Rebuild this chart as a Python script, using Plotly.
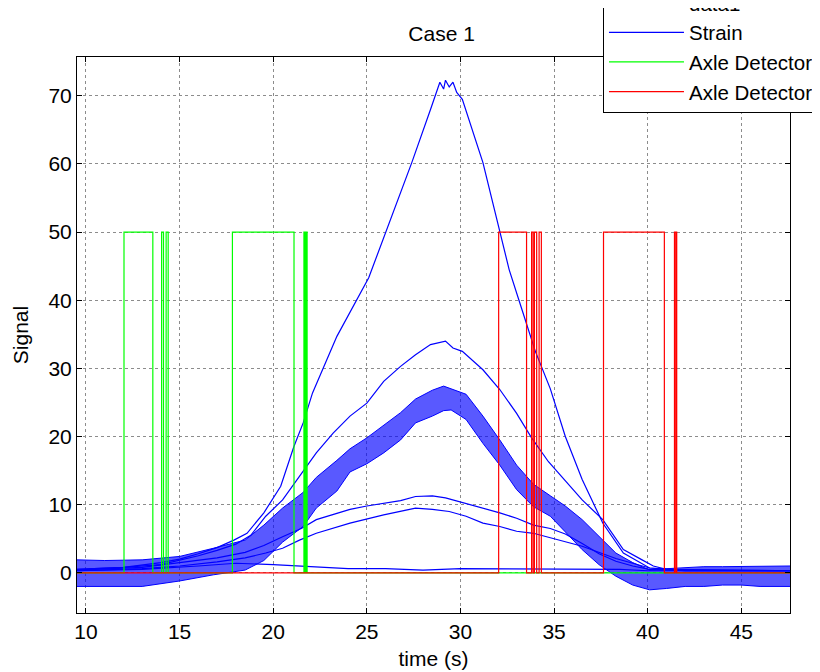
import plotly.graph_objects as go

# strain curves (time s, signal)
t_s1 = [9.5, 12, 14, 15, 16, 17, 17.9, 18.6, 19.5, 20.4, 21.1, 21.6, 22.1, 23.4, 25.1, 26.0, 27.4, 28.4, 28.7,
        28.9, 29.1, 29.2, 29.4, 29.6, 29.8, 30.1, 31.2, 32.1, 32.6, 33.3, 34.0, 34.8, 35.6, 36.5, 37.6, 38.7,
        40.1, 42, 47.6]
v_s1 = [0.5, 0.8, 1.5, 2.0, 2.8, 3.7, 4.8, 5.8, 8.8, 12.7, 18.5, 22.0, 26.4, 34.7, 43.3, 49.9, 60.2, 68.0, 70.5,
        72.0, 71.0, 72.3, 71.3, 72.0, 70.5, 69.5, 60.2, 50.0, 44.5, 38.5, 32.5, 27.0, 20.0, 13.7, 7.3, 2.9,
        0.7, 0.4, 0.3]

t_s2 = [9.5, 12, 14, 15, 16, 17, 18, 18.8, 19.6, 20.5, 21.4, 22.3, 23.2, 24.1, 25.0, 25.9, 26.8, 27.6, 28.4,
        29.2, 29.6, 30.1, 31.2, 32.1, 33.0, 33.8, 34.7, 35.6, 36.5, 37.6, 38.7, 39.7, 40.3, 41, 47.6]
v_s2 = [0.5, 0.8, 1.2, 1.8, 2.5, 3.3, 4.2, 5.5, 8.3, 10.7, 14.1, 17.6, 20.5, 23.0, 24.9, 28.1, 30.3, 32.0, 33.5,
        34.0, 33.0, 32.5, 29.8, 26.9, 23.4, 19.8, 16.3, 13.5, 10.7, 7.8, 3.4, 1.9, 1.0, 0.5, 0.3]

# noisy strain channel, upper / lower envelope
t_band = [9.5, 11, 13, 15, 16.8, 18.5, 19.5, 20.5, 21.6, 22.3, 23.4, 24.1, 25.0, 25.9, 26.8, 27.6, 28.5, 29.1,
          29.5, 30.3, 31.2, 32.1, 33.0, 33.9, 34.8, 35.6, 36.5, 37.4, 38.3, 39.2, 40.1, 41, 42, 43, 44, 45, 46,
          47.6]
v_band_hi = [1.9, 1.8, 1.9, 2.4, 3.6, 4.8, 7.0, 9.5, 11.8, 14.0, 16.5, 18.2, 19.8, 21.6, 23.5, 25.5, 26.8, 27.4,
             27.0, 26.2, 23.0, 19.5, 15.8, 13.0, 11.3, 9.8, 7.8, 5.3, 2.9, 1.5, 0.4, 0.6, 0.8, 0.9, 0.9, 0.9,
             1.0, 1.0]
v_band_lo = [-2.0, -2.0, -2.0, -1.2, -0.3, 0.4, 1.8, 4.5, 6.8, 9.5, 12.0, 14.8, 16.0, 17.6, 19.5, 22.0, 23.0,
             23.8, 23.9, 22.5, 19.0, 15.8, 12.2, 9.7, 8.3, 6.0, 3.4, 1.2, -0.5, -1.8, -2.5, -2.3, -2.0, -2.0,
             -1.8, -1.8, -2.0, -2.0]

t_s4 = [9.5, 13, 15, 17, 18.5, 19.5, 20.5, 21.5, 22.3, 23.2, 24.1, 25.0, 25.9, 26.8, 27.6, 28.5, 29.2, 30.3,
        31.2, 32.1, 33.0, 33.9, 34.8, 35.6, 36.5, 37.4, 38.3, 39.2, 40.1, 42, 47.6]
v_s4 = [0.4, 0.8, 1.5, 2.2, 3.0, 4.0, 5.3, 6.5, 7.8, 8.6, 9.3, 9.8, 10.2, 10.6, 11.2, 11.3, 11.0, 10.2,
        9.5, 8.8, 8.0, 7.0, 6.5, 5.7, 4.3, 2.8, 1.7, 1.0, 0.5, 0.3, 0.3]

t_s5 = [9.5, 13, 15, 17, 18.5, 19.6, 20.5, 21.4, 22.3, 24.1, 25.9, 26.8, 27.6, 28.5, 29.4, 30.3, 31.2, 32.1,
        33.0, 33.9, 34.6, 36.5, 38.3, 40.1, 42, 47.6]
v_s5 = [0.3, 0.6, 1.0, 1.6, 2.2, 2.9, 3.6, 4.8, 5.8, 7.3, 8.5, 9.0, 9.5, 9.3, 9.0, 8.3, 7.3, 6.8,
        6.1, 5.8, 5.3, 3.9, 2.1, 0.7, 0.3, 0.3]

t_s6 = [9.5, 13, 16, 18, 20, 22, 24, 26, 28, 30, 32, 34, 36, 37.6, 38.5, 40, 44, 47.6]
v_s6 = [0.3, 0.5, 1.0, 1.4, 1.2, 0.9, 0.6, 0.6, 0.4, 0.6, 0.6, 0.5, 0.5, 0.6, 0.5, 0.3, 0.3, 0.3]

# axle detectors (step signals)
t_ad1 = [9.5, 12.03, 13.57, 14.04, 14.14, 14.28, 14.39, 17.82, 21.11, 21.64, 21.68, 21.72, 21.76, 21.78, 21.81, 47.6]
v_ad1 = [0, 50, 0, 50, 0, 50, 0, 50, 0, 50, 0, 50, 0, 50, 0, 0]

t_ad2 = [9.5, 32.04, 33.53, 33.80, 33.88, 33.95, 34.07, 34.20, 34.32, 37.64, 40.89, 41.43, 41.50, 41.52, 41.55, 47.6]
v_ad2 = [0, 50, 0, 50, 0, 50, 0, 50, 0, 50, 0, 50, 0, 50, 0, 0]

x_ticks = [10, 15, 20, 25, 30, 35, 40, 45]
y_ticks = [0, 10, 20, 30, 40, 50, 60, 70]

BLUE = '#0000ff'
fig = go.Figure()

fig.add_trace(go.Scatter(x=t_band, y=v_band_lo, mode='lines', line=dict(color=BLUE, width=1),
                         showlegend=False, hoverinfo='skip'))
fig.add_trace(go.Scatter(x=t_band, y=v_band_hi, mode='lines', line=dict(color=BLUE, width=1),
                         fill='tonexty', fillcolor='rgba(0,0,255,0.65)', name='data1',
                         legendgroup='a'))
fig.add_trace(go.Scatter(x=t_s1, y=v_s1, mode='lines', line=dict(color=BLUE, width=1.2),
                         name='Strain', legendgroup='b'))
for tt, vv in [(t_s2, v_s2), (t_s4, v_s4), (t_s5, v_s5), (t_s6, v_s6)]:
    fig.add_trace(go.Scatter(x=tt, y=vv, mode='lines', line=dict(color=BLUE, width=1.2),
                             showlegend=False))
fig.add_trace(go.Scatter(x=t_ad1, y=v_ad1, mode='lines', line=dict(color='#00ff00', width=1.2, shape='hv'),
                         name='Axle Detector', legendgroup='c'))
fig.add_trace(go.Scatter(x=t_ad2, y=v_ad2, mode='lines', line=dict(color='#ff0000', width=1.2, shape='hv'),
                         name='Axle Detector', legendgroup='d'))

axis_style = dict(showline=True, linecolor='black', linewidth=1, mirror='ticks', ticks='inside',
                  ticklen=5, tickcolor='black', showgrid=True, gridcolor='#8c8c8c', griddash='dot',
                  gridwidth=1, zeroline=False, tickfont=dict(size=21, color='black'))

fig.update_xaxes(range=[9.52, 47.6], tickvals=x_ticks, title=dict(text='time (s)', font=dict(size=21), standoff=9),
                 **axis_style)
fig.update_yaxes(range=[-5.9, 75.7], tickvals=y_ticks, title=dict(text='Signal', font=dict(size=21), standoff=14),
                 **axis_style)

# page body has an 8px margin, so the figure is 8px smaller and shifted
fig.update_layout(
    width=812, height=664,
    margin=dict(l=69, r=30, t=49, b=59, autoexpand=False),
    paper_bgcolor='white', plot_bgcolor='white',
    font=dict(family='Liberation Sans, Arial, sans-serif', size=21, color='black'),
    title=dict(text='Case 1', x=0.534, xanchor='center', y=0.962, yanchor='middle', font=dict(size=21)),
    legend=dict(x=0.7377, xanchor='left', y=0.8996, yanchor='bottom', bgcolor='white',
                bordercolor='black', borderwidth=1, font=dict(size=20.5), tracegroupgap=0,
                itemwidth=75),
)

fig.write_html("out.html")
